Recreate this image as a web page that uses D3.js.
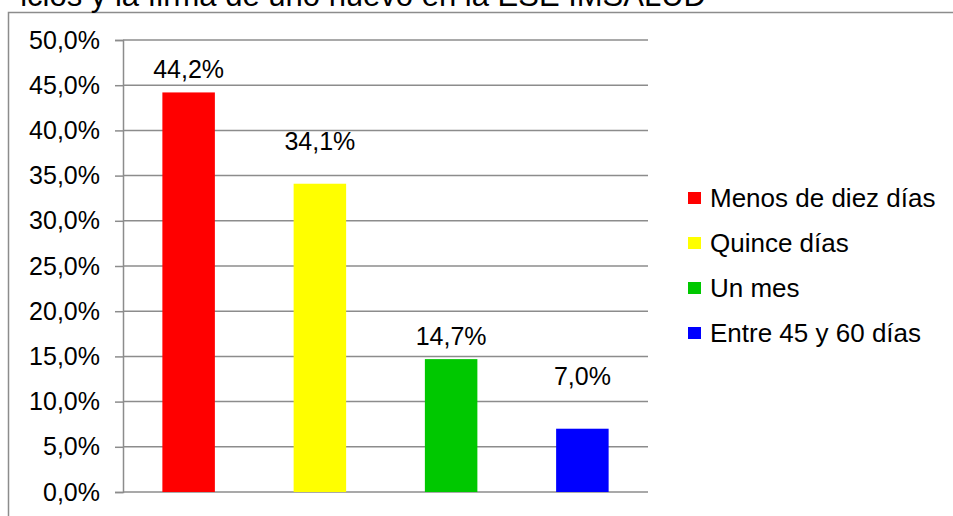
<!DOCTYPE html>
<html>
<head>
<meta charset="utf-8">
<script src="https://cdn.jsdelivr.net/npm/d3@7"></script>
<style>
  html, body { margin: 0; padding: 0; background: #fff; overflow: hidden; }
  svg { display: block; }
  text { font-family: "Liberation Sans", Arial, sans-serif; fill: #000; }
</style>
</head>
<body>
<svg id="chart" width="953" height="516"></svg>
<script>
// Tiempo entre contratos: share of responses by waiting period
const categories = ["Menos de diez días", "Quince días", "Un mes", "Entre 45 y 60 días"];
const values = [44.2, 34.1, 14.7, 7.0];
const colors = ["#ff0000", "#ffff00", "#00c800", "#0000ff"];
const tickValues = [0, 5, 10, 15, 20, 25, 30, 35, 40, 45, 50];
const titleText = "icios y la firma de uno nuevo en la ESE IMSALUD";

// layout
const plot = { left: 123, right: 648, top: 40, bottom: 492 };
const labelLift = [14, 34, 14, 44];   // distance of each value label above its bar
const fmt = v => v.toFixed(1).replace(".", ",") + "%";

const svg = d3.select("#chart");

const x = d3.scaleBand()
  .domain(categories)
  .range([plot.left, plot.right])
  .paddingInner(0.6)
  .paddingOuter(0.3);

const y = d3.scaleLinear()
  .domain([0, 50])
  .range([plot.bottom, plot.top]);

// outer chart frame
svg.append("rect")
  .attr("x", 8.5).attr("y", 12.5)
  .attr("width", 1000).attr("height", 600)
  .attr("fill", "none")
  .attr("stroke", "#8c8c8c")
  .attr("stroke-width", 1.5);

// title (runs past the top edge)
svg.append("text")
  .attr("x", 706).attr("y", 6)
  .attr("text-anchor", "end")
  .style("font-size", "31px")
  .text(titleText);

// y axis with gridlines
const yAxis = d3.axisLeft(y)
  .tickValues(tickValues)
  .tickSize(8)
  .tickPadding(15)
  .tickFormat(fmt);

const ga = svg.append("g")
  .attr("transform", `translate(${plot.left},0)`)
  .call(yAxis);
ga.select(".domain").attr("stroke", "#8c8c8c").attr("stroke-width", 1.5);
ga.selectAll(".tick line").attr("stroke", "#8c8c8c").attr("stroke-width", 1.5);
ga.selectAll(".tick text")
  .style("font-size", "25px")
  .style("font-family", "'Liberation Sans', Arial, sans-serif")
  .attr("fill", "#000");

svg.append("g")
  .selectAll("line")
  .data(tickValues)
  .join("line")
  .attr("x1", plot.left).attr("x2", plot.right)
  .attr("y1", d => y(d)).attr("y2", d => y(d))
  .attr("stroke", "#8c8c8c")
  .attr("stroke-width", 1.5);

// bars
svg.append("g")
  .selectAll("rect")
  .data(values)
  .join("rect")
  .attr("x", (d, i) => x(categories[i]))
  .attr("y", d => y(d))
  .attr("width", x.bandwidth())
  .attr("height", d => y(0) - y(d))
  .attr("fill", (d, i) => colors[i]);

// value labels
svg.append("g")
  .selectAll("text")
  .data(values)
  .join("text")
  .attr("x", (d, i) => x(categories[i]) + x.bandwidth() / 2)
  .attr("y", (d, i) => y(d) - labelLift[i])
  .attr("text-anchor", "middle")
  .style("font-size", "25px")
  .text(fmt);

// legend
const legend = svg.append("g")
  .selectAll("g")
  .data(categories)
  .join("g")
  .attr("transform", (d, i) => `translate(688,${198 + i * 45})`);

legend.append("rect")
  .attr("x", 0).attr("y", -6)
  .attr("width", 13).attr("height", 12)
  .attr("fill", (d, i) => colors[i]);

legend.append("text")
  .attr("x", 22).attr("y", 9)
  .style("font-size", "26px")
  .text(d => d);
</script>
</body>
</html>
